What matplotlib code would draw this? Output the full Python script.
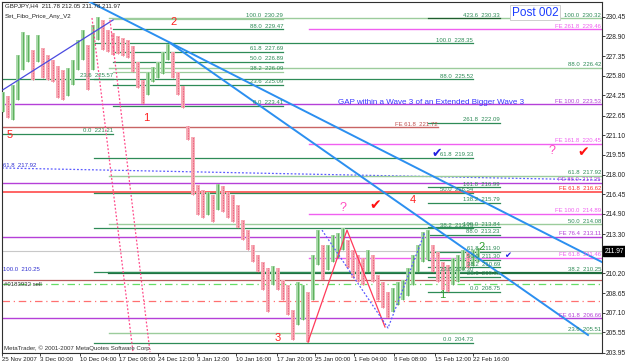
import numpy as np
import matplotlib.pyplot as plt
import matplotlib.transforms as mtransforms

plt.rcParams['font.family'] = ['Liberation Sans', 'DejaVu Sans']

# GBPJPY H4 price bars, one slot per ~4 H4 bars (high / low)
highs = [224.51, 224.20, 225.06, 227.43, 229.24, 229.01, 227.82, 229.01, 227.98, 227.43,
         227.04, 226.56, 226.25, 226.41, 227.04, 228.61, 229.40, 228.22, 229.80, 230.43,
         230.19, 229.40, 229.17, 228.93, 228.77, 228.61, 228.14, 226.88, 225.46, 226.09,
         226.48, 226.88, 227.67, 228.30, 227.67, 226.09, 224.98, 221.83, 220.96, 217.17,
         216.78, 216.62, 216.38, 217.25, 217.09, 216.62, 216.38, 215.60, 214.41, 213.62,
         212.44, 211.65, 211.10, 210.62, 210.78, 210.62, 209.68, 209.28, 207.31, 209.52,
         209.28, 208.73, 211.65, 213.62, 212.44, 212.44, 213.23, 213.39, 213.78, 212.83,
         212.05, 211.65, 211.41, 212.05, 211.65, 210.07, 209.52, 208.73, 209.05, 209.52,
         209.68, 210.62, 211.65, 212.44, 213.47, 213.62, 212.44, 211.89, 211.10, 210.86,
         211.41, 211.65, 212.05, 211.89, 212.05, 212.20]
lows = [222.93, 222.46, 222.30, 223.88, 226.25, 226.88, 225.46, 226.88, 225.62, 225.46,
        225.30, 224.04, 223.88, 224.20, 225.06, 226.25, 227.04, 224.67, 226.25, 228.61,
        227.82, 227.67, 227.43, 227.51, 227.35, 227.19, 226.09, 224.83, 223.56, 224.27,
        225.30, 225.62, 225.93, 227.04, 225.62, 224.27, 223.25, 220.72, 216.38, 214.81,
        214.57, 214.81, 214.25, 215.20, 215.04, 214.57, 214.25, 213.78, 212.83, 212.05,
        211.10, 210.31, 208.89, 207.15, 209.28, 208.89, 208.10, 206.92, 204.94, 206.13,
        206.52, 204.79, 208.10, 210.86, 209.68, 210.47, 211.10, 211.41, 212.05, 210.62,
        209.84, 209.52, 209.28, 210.31, 209.52, 208.10, 207.47, 206.68, 207.15, 207.71,
        208.10, 208.42, 209.28, 210.31, 211.10, 211.26, 210.31, 209.52, 208.89, 208.73,
        209.28, 209.52, 210.47, 210.62, 210.78, 211.10]

date_pos = [-0.2, 7.4, 15.4, 23.2, 31, 38.8, 46.6, 54.8, 62.4, 70.2, 78.2, 86.4, 94]
date_labels = ['25 Nov 2007', '3 Dec 00:00', '10 Dec 04:00', '17 Dec 08:00', '24 Dec 12:00',
               '3 Jan 12:00', '10 Jan 16:00', '17 Jan 20:00', '25 Jan 00:00', '1 Feb 04:00',
               '8 Feb 08:00', '15 Feb 12:00', '22 Feb 16:00']
price_ticks = [230.45, 228.90, 227.35, 225.80, 224.25, 222.65, 221.10, 219.55, 218.00,
               216.45, 214.90, 213.30, 210.20, 208.65, 207.10, 205.55, 203.95]
last_price = 211.97

# fibonacci retracement sets: levels, prices, start slot, end slot
fibB_lv = [0.0, 23.6, 38.2, 50.0, 61.8, 88.0, 100.0]
fibB_px = [223.41, 225.09, 226.09, 226.89, 227.69, 229.47, 230.29]
fibB_x = (22, 56)
fibE_lv = [0.0, 23.6, 38.2, 50.0, 61.8, 88.0, 100.0]
fibE_px = [204.73, 210.30, 213.75, 216.54, 219.33, 225.52, 228.35]
fibE_x = (18.2, 94)
fibD_lv = [0.0, 23.6, 38.2, 50.0, 61.8, 88.0, 100.0, 138.2, 161.8, 261.8, 423.6]
fibD_px = [208.75, 209.95, 210.69, 211.30, 211.90, 213.23, 213.84, 215.79, 216.99, 222.09, 230.33]
fibD_x = (85, 99.4)
fibF_lv = [23.6, 38.2, 50.0, 61.8, 88.0, 100.0]
fibF_px = [205.51, 210.25, 214.08, 217.92, 226.42, 230.32]
fibF_x = (21.2, 119.8)
fibC_lv = [0.0, 23.6]
fibC_px = [221.21, 225.57]
fibC_x = (-0.2, 22)

# fibonacci expansion lines
fe_pink_lv = [61.8, 100.0, 161.8, 261.8]
fe_pink_px = [211.46, 214.89, 220.45, 229.46]
fe_purple_lv = [61.8, 76.4, 86.0, 100.0]
fe_purple_px = [206.66, 213.11, 217.35, 223.53]

# trend lines (slot, price)
lineA_x, lineA_y = [16.6, 119.8], [231.77, 211.10]
lineB_x, lineB_y = [33.4, 117.0], [228.38, 205.35]
lineS_x, lineS_y = [0, 22], [224.69, 230.19]
dotP_x, dotP_y = [17.8, 26.0], [230.35, 204.00]
dotQ_x, dotQ_y = [21.4, 29.4], [230.19, 204.00]
zig_red_x, zig_red_y = [61, 68.8, 76.4], [204.79, 213.62, 205.98]
zig_blue_x, zig_blue_y = [63.8, 77.0, 84.4], [213.62, 205.90, 213.47]

fig = plt.figure(figsize=(6.25, 3.63), dpi=100)
ax = fig.add_axes([2 / 625, 10 / 363, 600 / 625, 351 / 363])
ax.set_xlim(-0.2, 119.8)
ax.set_ylim(203.93, 231.61)
XL, XR = -0.2, 119.8

GREEN = '#2e8b57'
LGREEN = '#9ccc9c'
fs = 4.3

def hline(p, x0, x1, col, lw=0.9, ls='-', z=2):
    ax.plot([x0, x1], [p, p], color=col, lw=lw, ls=ls, zorder=z)

def lab(x, p, s, col, ha='right'):
    ax.text(x, p + 0.05, s, color=col, fontsize=fs, ha=ha, va='bottom', zorder=6)

# fixed order / stop lines
hline(last_price, XL, XR, '#c8c8c8', lw=0.8)
hline(209.69, XL, XR, '#b85a5a', lw=0.9)
hline(209.37, XL, XR, '#66dd66', lw=0.9, ls=(0, (6, 3, 1, 3)))
hline(208.05, XL, XR, '#ff7070', lw=0.9, ls=(0, (6, 3, 1, 3)))
ax.text(0.3, 209.55, '#0183932 sell', fontsize=fs, color='#333333', va='top', zorder=6)

# blue dotted fib level
ax.plot([XL, XR], [218.52, 217.57], color='#5b5bff', lw=0.9, ls=(0, (1.5, 1.5)), zorder=2)
ax.text(0.0, 218.55, '61.8  217.92', fontsize=fs, color='#3030d0', va='bottom', zorder=6)
ax.text(0.0, 210.30, '100.0  210.25', fontsize=fs, color='#3030d0', va='bottom', zorder=6)

# FE lines
for lv, p in zip(fe_purple_lv, fe_purple_px):
    hline(p, XL, XR, '#b540d8', lw=1.0)
    lab(XR - 0.2, p, 'FE %.1f  %.2f' % (lv, p), '#b540d8')
for lv, p in zip(fe_pink_lv, fe_pink_px):
    hline(p, 61.2, XR, '#f060f0', lw=1.0)
    lab(XR - 0.2, p, 'FE %.1f  %.2f' % (lv, p), '#f060f0')
hline(216.62, XL, XR, '#ff4a4a', lw=1.2)
lab(XR - 0.2, 216.62, 'FE 61.8  216.62', '#ff3030')
hline(221.72, XL, 87, '#c86464', lw=1.0)
lab(87, 221.72, 'FE 61.8  221.72', '#c05050')

# fib retracements
for lv, p in zip(fibF_lv, fibF_px):
    hline(p, fibF_x[0], fibF_x[1], LGREEN if lv != 38.2 else '#1f6f3f', lw=1.0 if lv != 38.2 else 1.6)
    lab(XR - 0.2, p, '%.1f  %.2f' % (lv, p), GREEN)
for lv, p in zip(fibE_lv, fibE_px):
    hline(p, fibE_x[0], fibE_x[1], GREEN)
    lab(fibE_x[1], p, '%.1f  %.2f' % (lv, p), GREEN)
for lv, p in zip(fibB_lv, fibB_px):
    hline(p, fibB_x[0], fibB_x[1], LGREEN if lv in (38.2, 100.0) else GREEN)
    lab(fibB_x[1], p, '%.1f  %.2f' % (lv, p), GREEN)
for lv, p in zip(fibD_lv, fibD_px):
    hline(p, fibD_x[0], fibD_x[1], GREEN if lv != 423.6 else '#1f5f2f')
    lab(fibD_x[1], p, '%.1f  %.2f' % (lv, p), GREEN)
for lv, p in zip(fibC_lv, fibC_px):
    hline(p, fibC_x[0], fibC_x[1], GREEN)
    lab(fibC_x[1], p, '%.1f  %.2f' % (lv, p), GREEN)

# price bars
hi = np.array(highs)
lo = np.array(lows)
xs = np.arange(len(hi))
mid = (hi + lo) / 2
up = np.diff(mid, prepend=mid[0]) >= 0
ax.vlines(xs[up], lo[up], hi[up], color='#a6d8a6', lw=2.8, zorder=3)
ax.vlines(xs[up], lo[up], hi[up], color='#3f9f3f', lw=0.5, zorder=3)
ax.vlines(xs[~up], lo[~up], hi[~up], color='#f6aab4', lw=2.8, zorder=3)
ax.vlines(xs[~up], lo[~up], hi[~up], color='#e8456a', lw=0.6, ls=(0, (1, 1)), zorder=3)

# trend lines and wave zigzags
ax.plot(lineA_x, lineA_y, color='#2b8ff0', lw=1.4, zorder=4)
ax.plot(lineB_x, lineB_y, color='#2b8ff0', lw=1.4, zorder=4)
ax.plot(lineS_x, lineS_y, color='#4a4ae0', lw=0.9, zorder=4)
ax.plot(dotP_x, dotP_y, color='#ff4a8a', lw=0.9, ls=(0, (1.5, 1.5)), zorder=4)
ax.plot(dotQ_x, dotQ_y, color='#ff4a8a', lw=0.9, ls=(0, (1.5, 1.5)), zorder=4)
ax.plot(zig_red_x, zig_red_y, color='#ff3a5a', lw=0.9, zorder=4)
ax.plot(zig_blue_x, zig_blue_y, color='#5a5aff', lw=0.9, ls=(0, (1.5, 1.5)), zorder=4)

# wave labels and marks
for s, x, p in [('5', 1.4, 221.12), ('1', 28.6, 222.5), ('2', 34.2, 230.03),
                ('3', 55.0, 205.1), ('4', 82.0, 216.0)]:
    ax.text(x, p, s, color='#ff2020', fontsize=8, ha='center', va='center', zorder=7)
for s, x, p in [('1', 87.8, 208.5), ('2', 95.8, 212.3)]:
    ax.text(x, p, s, color='#30a030', fontsize=8, ha='center', va='center', zorder=7)
for x, p in [(68, 215.4), (109.8, 219.85)]:
    ax.text(x, p, '?', color='#ff50c0', fontsize=9, ha='center', va='center', zorder=7)
for x, p in [(74.4, 215.6), (116, 219.8)]:
    ax.text(x, p, '\u2714', color='#ff1010', fontsize=10, ha='center', va='center',
            family='DejaVu Sans', zorder=7)
ax.text(86.8, 219.7, '\u2714', color='#2020e0', fontsize=9, ha='center', va='center',
        family='DejaVu Sans', zorder=7)
ax.text(101.0, 211.6, '\u2714', color='#2020e0', fontsize=6, ha='center', va='center',
        family='DejaVu Sans', zorder=7)
ax.text(67.0, 223.7, 'GAP within a Wave 3 of an Extended Bigger Wave 3', color='#3535ff',
        fontsize=5.8, ha='left', va='center', zorder=7)
ax.text(101.8, 230.78, 'Post 002', color='#1a3cff', fontsize=8.5, ha='left', va='center',
        zorder=7, bbox=dict(boxstyle='square,pad=0.15', fc='white', ec='#c8c8c8', lw=0.6))

# chart header and footer
ax.text(0.005, 0.997, 'GBPJPY,H4  211.78 212.05 211.78 211.97', transform=ax.transAxes,
        fontsize=4.4, va='top', ha='left', color='#202020', zorder=8)
ax.text(0.005, 0.967, 'Set_Fibo_Price_Any_V2', transform=ax.transAxes,
        fontsize=4.4, va='top', ha='left', color='#202020', zorder=8)
ax.text(0.003, 0.006, 'MetaTrader, \u00a9 2001-2007 MetaQuotes Software Corp.', transform=ax.transAxes,
        fontsize=4.4, va='bottom', ha='left', color='#303030', zorder=8)

# axes styling like MT4
ax.yaxis.tick_right()
ax.set_yticks(price_ticks)
ax.set_yticklabels(['%.2f' % v for v in price_ticks])
ax.set_xticks(date_pos)
ax.set_xticklabels(date_labels)
ax.tick_params(axis='y', labelsize=4.8, length=2, width=0.6, pad=1, colors='#202020')
ax.tick_params(axis='x', labelsize=4.4, length=2, width=0.6, pad=1, colors='#202020')
for t in ax.get_xticklabels():
    t.set_ha('left')
for sp in ax.spines.values():
    sp.set_linewidth(0.8)
    sp.set_color('#303030')
trans = mtransforms.blended_transform_factory(ax.transAxes, ax.transData)
ax.text(1.004, last_price, '211.97', transform=trans, fontsize=4.8, color='white', va='center',
        ha='left', bbox=dict(boxstyle='square,pad=0.2', fc='black', ec='black'))

plt.savefig('out.png', dpi=100, facecolor='white')
